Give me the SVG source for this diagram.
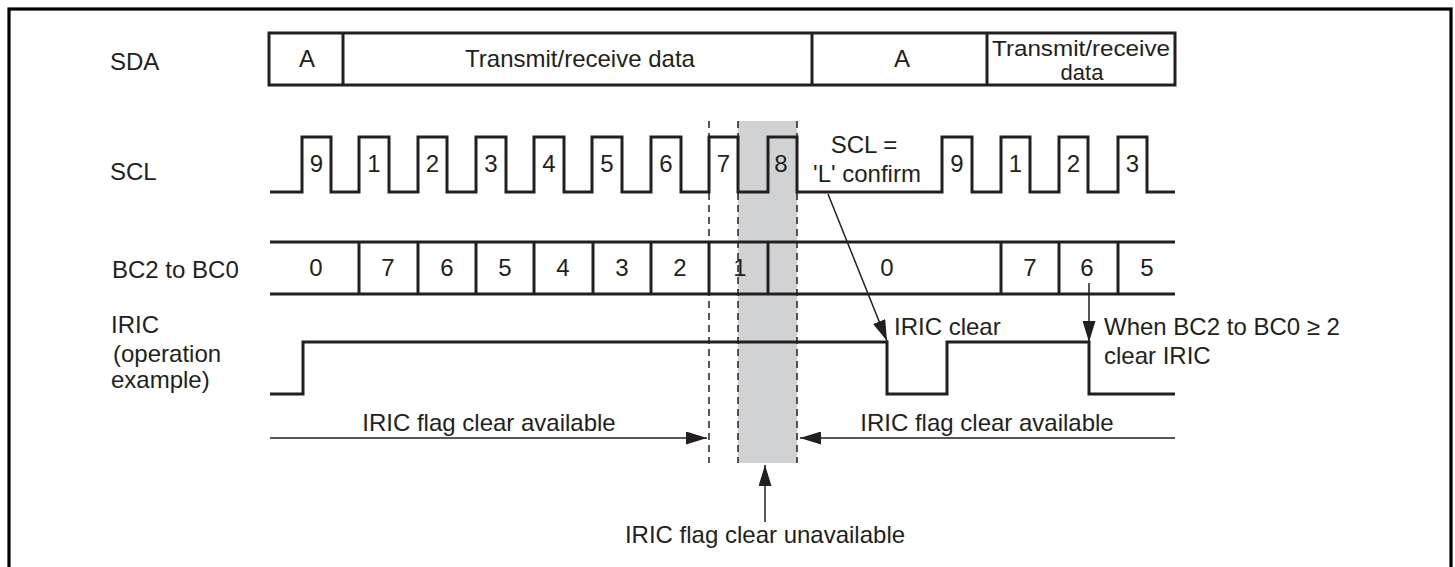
<svg xmlns="http://www.w3.org/2000/svg" width="1455" height="567" viewBox="0 0 1455 567">
<style>
text{font-family:"Liberation Sans",Arial,sans-serif;font-size:24px;fill:#231f20}
.c{text-anchor:middle}
.sm{font-size:22px}
.sig{fill:none;stroke:#231f20;stroke-width:3;stroke-linejoin:miter}
.dash{stroke:#231f20;stroke-width:1.5;stroke-dasharray:7 5}
.arr{stroke:#231f20;stroke-width:1.5;fill:none;marker-end:url(#ah)}
</style>
<defs>
<marker id="ah" markerUnits="userSpaceOnUse" markerWidth="21" markerHeight="13" refX="21" refY="6.5" orient="auto">
<path d="M0,0 L21,6.5 L0,13 z" fill="#231f20"/>
</marker>
</defs>
<rect x="0" y="0" width="1455" height="567" fill="#fff"/>
<rect x="9" y="9" width="1442" height="570" fill="none" stroke="#000" stroke-width="3.2"/>

<g id="unavailable-zone">
<rect x="738" y="121" width="59" height="342" fill="#d1d2d4"/>
<line class="dash" x1="709" y1="121" x2="709" y2="463"/>
<line class="dash" x1="738" y1="121" x2="738" y2="463"/>
<line class="dash" x1="797" y1="121" x2="797" y2="463"/>
</g>

<g id="labels">
<text x="110" y="70">SDA</text>
<text x="110" y="180">SCL</text>
<text x="112" y="278">BC2 to BC0</text>
<text x="111" y="333">IRIC</text>
<text x="113" y="362">(operation</text>
<text x="111" y="388">example)</text>
</g>

<g id="sda">
<rect class="sig" x="269" y="33" width="906" height="52"/>
<line class="sig" x1="343" y1="33" x2="343" y2="85"/>
<line class="sig" x1="812" y1="33" x2="812" y2="85"/>
<line class="sig" x1="987" y1="33" x2="987" y2="85"/>
<text class="c" x="307" y="67">A</text>
<text class="c" x="580" y="67">Transmit/receive data</text>
<text class="c" x="902" y="67">A</text>
<text class="c" x="1081" y="56" textLength="178" lengthAdjust="spacingAndGlyphs" style="font-size:22px">Transmit/receive</text>
<text class="c" x="1082" y="80" style="font-size:22px">data</text>
</g>

<g id="scl">
<path class="sig" d="M270,192 H302 V137 H331 V192 H359 V137 H389 V192 H418 V137 H447 V192 H476 V137 H506 V192 H534 V137 H564 V192 H592 V137 H622 V192 H651 V137 H681 V192 H709 V137 H738 V192 H768 V137 H797 V192 H942 V137 H972 V192 H1001 V137 H1030 V192 H1059 V137 H1088 V192 H1118 V137 H1147 V192 H1175"/>
<text class="c" x="316.5" y="172">9</text>
<text class="c" x="374" y="172">1</text>
<text class="c" x="432.5" y="172">2</text>
<text class="c" x="491" y="172">3</text>
<text class="c" x="549" y="172">4</text>
<text class="c" x="607" y="172">5</text>
<text class="c" x="666" y="172">6</text>
<text class="c" x="723.5" y="172">7</text>
<text class="c" x="781" y="172">8</text>
<text class="c" x="957" y="172">9</text>
<text class="c" x="1015.5" y="172">1</text>
<text class="c" x="1073.5" y="172">2</text>
<text class="c" x="1132.5" y="172">3</text>
<text class="c" x="864" y="153">SCL =</text>
<text class="c" x="867" y="182">'L' confirm</text>
</g>

<g id="bc">
<line class="sig" x1="270" y1="242" x2="1175" y2="242"/>
<line class="sig" x1="270" y1="294" x2="1175" y2="294"/>
<path class="sig" d="M359,242V294 M418,242V294 M476,242V294 M534,242V294 M593,242V294 M651,242V294 M709,242V294 M768,242V294 M1001,242V294 M1059,242V294 M1118,242V294"/>
<text class="c" x="316" y="276">0</text>
<text class="c" x="388" y="276">7</text>
<text class="c" x="447" y="276">6</text>
<text class="c" x="505" y="276">5</text>
<text class="c" x="563" y="276">4</text>
<text class="c" x="622" y="276">3</text>
<text class="c" x="680" y="276">2</text>
<text class="c" x="740" y="276">1</text>
<text class="c" x="887" y="276">0</text>
<text class="c" x="1030" y="276">7</text>
<text class="c" x="1087" y="276">6</text>
<text class="c" x="1147" y="276">5</text>
</g>

<g id="iric">
<path class="sig" d="M270,394 H303 V342 H887 V394 H947 V342 H1089 V394 H1175"/>
<text x="894" y="335">IRIC clear</text>
<text x="1104" y="335">When BC2 to BC0 ≥ 2</text>
<text x="1104" y="364">clear IRIC</text>
</g>

<g id="availability">
<text class="c" x="489" y="431">IRIC flag clear available</text>
<text class="c" x="987" y="431">IRIC flag clear available</text>
<text class="c" x="765" y="543">IRIC flag clear unavailable</text>
</g>

<g id="connectors">
<line class="arr" x1="270" y1="438" x2="707" y2="438"/>
<line class="arr" x1="1175" y1="438" x2="800" y2="438"/>
<line class="arr" x1="765" y1="522" x2="765" y2="465"/>
<line class="arr" x1="828" y1="194" x2="887" y2="341"/>
<line class="arr" x1="1089" y1="283" x2="1089" y2="342"/>
</g>
</svg>
